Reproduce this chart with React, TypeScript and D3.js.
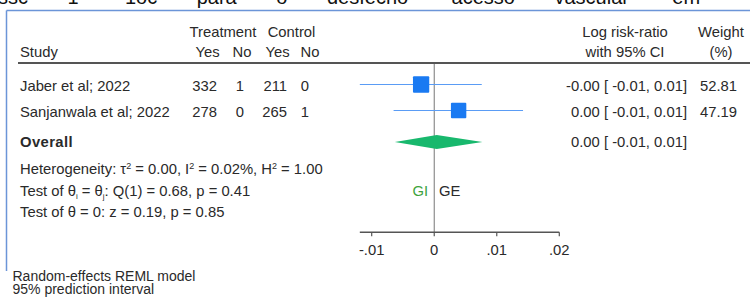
import React from "react";
import * as d3 from "d3";

const studies = ["Jaber et al; 2022", "Sanjanwala et al; 2022"];
const treatYes = [332, 278];
const treatNo = [1, 0];
const ctrlYes = [211, 265];
const ctrlNo = [0, 1];
const estimates = [-0.0021, 0.0039];
const ciLow = [-0.0119, -0.0065];
const ciHigh = [0.0076, 0.0142];
const weights = [52.81, 47.19];
const ciLabels = ["-0.00 [ -0.01, 0.01]", "0.00 [ -0.01, 0.01]"];
const overallEst = 0.0004;
const overallLow = -0.0063;
const overallHigh = 0.0077;
const overallLabel = "0.00 [ -0.01, 0.01]";
const tickValues = [-0.01, 0, 0.01, 0.02];
const tickLabels = ["-.01", "0", ".01", ".02"];

const FONT = "'Liberation Sans', Arial, sans-serif";
const TXT = "#2a2a2a";

export default function App() {
  const W = 750, H = 299;
  const x = d3.scaleLinear().domain([-0.01, 0.02]).range([371.7, 559.3]);
  const rowY = d3.scaleBand<number>().domain([0, 1]).range([72, 124]).paddingInner(0);
  const rowCenter = (i: number) => (rowY(i) as number) + rowY.bandwidth() / 2 - 0.5;
  const sizeScale = d3.scaleSqrt().domain([0, 100]).range([0, 22.4]);
  const diamondY = 142;
  const axisY = 232.3;
  const axisMin = Math.min(d3.min(ciLow) as number, -0.01);
  const fs = 14.8;

  const diamond = d3.line()([
    [x(overallLow), diamondY],
    [x(overallEst), diamondY - 7],
    [x(overallHigh), diamondY],
    [x(overallEst), diamondY + 7],
  ]) + "Z";

  const num = (v: number, xr: number, y: number, key: string) => (
    <text key={key} x={xr} y={y} textAnchor="end">{v}</text>
  );

  return (
    <svg width={W} height={H} style={{ position: "absolute", left: 0, top: 0 }} fontFamily={FONT}>
      <rect x={0} y={0} width={W} height={H} fill="#fff" />
      {/* cut-off caption line above */}
      <text x={-2} y={3.5} fontSize={20} fill="#111" wordSpacing={34}>
        ssc 1 ·1oc para o desfecho 'acesso vascular' em
      </text>
      {/* blue frame */}
      <line x1={6.5} x2={W} y1={10.5} y2={10.5} stroke="#6b95d8" strokeWidth={1.5} />
      <line x1={6.5} x2={6.5} y1={10.5} y2={271} stroke="#6b95d8" strokeWidth={1.5} />

      <g fill={TXT} fontSize={fs}>
        {/* headers */}
        <text x={223} y={36.5} textAnchor="middle">Treatment</text>
        <text x={291.5} y={36.5} textAnchor="middle">Control</text>
        <text x={20} y={57}>Study</text>
        <text x={207.5} y={57} textAnchor="middle">Yes</text>
        <text x={242} y={57} textAnchor="middle">No</text>
        <text x={277.5} y={57} textAnchor="middle">Yes</text>
        <text x={310} y={57} textAnchor="middle">No</text>
        <text x={625} y={36.5} textAnchor="middle">Log risk-ratio</text>
        <text x={625} y={57} textAnchor="middle">with 95% CI</text>
        <text x={721} y={36.5} textAnchor="middle">Weight</text>
        <text x={721} y={57} textAnchor="middle">(%)</text>

        {studies.map((s, i) => {
          const y = rowCenter(i) + 6.3;
          return (
            <g key={s}>
              <text x={20} y={y}>{s}</text>
              {num(treatYes[i], 217, y, "ty")}
              {num(treatNo[i], 244, y, "tn")}
              {num(ctrlYes[i], 287, y, "cy")}
              {num(ctrlNo[i], 309, y, "cn")}
              <text x={687} y={y} textAnchor="end">{ciLabels[i]}</text>
              <text x={737} y={y} textAnchor="end">{weights[i].toFixed(2)}</text>
            </g>
          );
        })}
        <text x={20} y={147} fontWeight="bold" letterSpacing={0.4}>Overall</text>
        <text x={687} y={147} textAnchor="end">{overallLabel}</text>

        <text x={20} y={174}>
          Heterogeneity: τ<tspan dy={-5} fontSize={9}>2</tspan>
          <tspan dy={5}> = 0.00, I</tspan><tspan dy={-5} fontSize={9}>2</tspan>
          <tspan dy={5}> = 0.02%, H</tspan><tspan dy={-5} fontSize={9}>2</tspan>
          <tspan dy={5}> = 1.00</tspan>
        </text>
        <text x={20} y={196}>
          Test of θ<tspan dy={3} fontSize={8}>i</tspan>
          <tspan dy={-3}> = θ</tspan><tspan dy={3} fontSize={8}>j</tspan>
          <tspan dy={-3}>: Q(1) = 0.68, p = 0.41</tspan>
        </text>
        <text x={20} y={217}>Test of θ = 0: z = 0.19, p = 0.85</text>

        <text x={12.5} y={280.5} fontSize={14}>Random-effects REML model</text>
        <text x={12.5} y={293.5} fontSize={14}>95% prediction interval</text>

        {tickValues.map((t, i) => (
          <text key={t} x={x(t)} y={255} textAnchor="middle">{tickLabels[i]}</text>
        ))}
        <text x={428} y={196} textAnchor="end" fill="#3da33d">GI</text>
        <text x={439} y={196} fill={TXT}>GE</text>
      </g>

      {/* header rule */}
      <line x1={18} x2={W} y1={63} y2={63} stroke="#555" strokeWidth={2} />

      {/* zero line */}
      <line x1={x(0)} x2={x(0)} y1={64} y2={axisY} stroke="#777" strokeWidth={1} />

      {/* CIs and squares */}
      {studies.map((s, i) => {
        const cy = rowCenter(i);
        const sz = sizeScale(weights[i]);
        return (
          <g key={s}>
            <line x1={x(ciLow[i])} x2={x(ciHigh[i])} y1={cy} y2={cy} stroke="#5a9cf5" strokeWidth={1.2} />
            <rect x={x(estimates[i]) - sz / 2} y={cy - sz / 2} width={sz} height={sz} fill="#1a7af2" rx={1} />
          </g>
        );
      })}
      <path d={diamond} fill="#18b86d" />

      {/* axis */}
      <line x1={x(axisMin)} x2={x(0.02)} y1={axisY} y2={axisY} stroke="#555" strokeWidth={1.5} />
      {tickValues.map((t) => (
        <line key={t} x1={x(t)} x2={x(t)} y1={axisY} y2={axisY + 4} stroke="#555" strokeWidth={1.2} />
      ))}
    </svg>
  );
}
